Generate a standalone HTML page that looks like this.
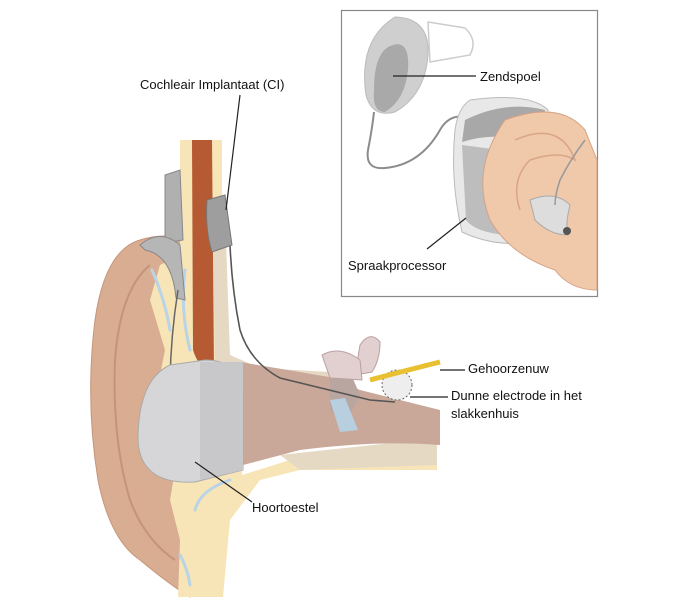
<!DOCTYPE html>
<html><head><meta charset="utf-8"><style>
html,body{margin:0;padding:0;background:#fff;width:687px;height:600px;overflow:hidden}
svg{display:block}
text{font-family:"Liberation Sans",sans-serif;font-size:13px;fill:#111}
</style></head><body>
<svg width="687" height="600" viewBox="0 0 687 600">
<!-- inset box -->
<rect x="341.5" y="10.5" width="256" height="286" fill="#fff" stroke="#888" stroke-width="1.2"/>
<!-- coil -->
<path d="M428,22 L465,28 Q478,40 470,55 L430,62 Z" fill="#fff" stroke="#ccc" stroke-width="1.5"/>
<path d="M395,17 Q430,18 428,55 Q425,95 395,112 Q372,118 366,95 Q358,40 395,17Z" fill="#cfcfcf" stroke="#bbb"/>
<path d="M393,45 Q410,40 408,70 Q405,100 385,112 Q372,112 374,90 Q374,50 393,45Z" fill="#a9a9a9"/>
<path d="M374,112 Q372,130 368,150 Q365,170 385,168 Q420,165 440,130 Q450,112 470,118" fill="none" stroke="#8c8c8c" stroke-width="2"/>
<!-- processor -->
<path d="M470,100 Q530,92 548,110 L545,240 Q500,250 462,232 Q450,180 455,130 Q458,108 470,100Z" fill="#e8e8e8" stroke="#bbb"/>
<path d="M465,120 Q505,100 545,110 L540,145 Q500,130 462,142Z" fill="#a8a8a8"/>
<path d="M462,145 L500,150 L505,235 Q475,232 466,220Z" fill="#bdbdbd"/>
<!-- inset ear -->
<path d="M505,120 Q560,100 585,130 L597,160 L597,290 Q570,290 555,270 Q510,255 490,220 Q470,170 505,120Z" fill="#f0c8aa" stroke="#d6a283"/>
<path d="M515,140 Q560,120 575,160 Q560,150 530,160 Q510,180 520,210" fill="none" stroke="#d9a586" stroke-width="1.5"/>
<path d="M530,200 Q555,190 570,205 Q565,225 568,235 Q550,235 535,220Z" fill="#dddddd" stroke="#aaa"/>
<circle cx="567" cy="231" r="4" fill="#555"/>
<path d="M585,140 Q570,160 560,180 Q555,195 555,205" fill="none" stroke="#999" stroke-width="1.5"/>
<!-- main ear pinna -->
<path d="M140,240 Q105,250 95,320 Q85,400 98,480 Q110,540 140,560 Q170,585 190,597 L190,240 Q165,232 140,240Z" fill="#d9ad92" stroke="#c4967a"/>
<path d="M150,265 Q120,290 115,360 Q112,440 130,500 Q145,540 175,560" fill="none" stroke="#c49478" stroke-width="2"/>
<!-- beige cross section -->
<path d="M180,140 L222,140 L222,240 L215,360 L227,375 L300,375 L330,378 L340,378 L340,395 L245,395 L242,475 L290,460 L380,450 L437,440 L437,470 L300,470 L260,480 L230,520 L223,597 L178,597 L180,540 L170,500 L175,470 L160,460 L155,400 L165,350 L150,300 L160,265 L180,255Z" fill="#f7e5b8"/>
<!-- cartilage streaks -->
<g stroke="#b9d4e6" stroke-width="3" fill="none" stroke-linecap="round">
<path d="M152,270 Q165,300 170,330"/>
<path d="M185,270 Q180,310 190,350"/>
<path d="M190,395 Q215,390 235,395"/>
<path d="M195,510 Q200,490 230,480"/>
<path d="M180,555 Q188,570 190,585"/>
</g>
<!-- bone speckled -->
<path d="M213,240 L226,240 L230,355 L260,368 L330,372 L340,398 L250,395 L215,370Z" fill="#e6d9c4"/>
<path d="M280,455 L437,438 L437,465 L300,470 Z" fill="#e6d9c4"/>
<!-- muscle -->
<path d="M192,140 L212,140 L214,370 Q200,372 193,350Z" fill="#b55a32"/>
<!-- ear canal -->
<path d="M240,362 Q300,372 335,378 L360,390 Q400,400 440,410 L440,445 Q380,440 300,450 L243,465Z" fill="#c9a899"/>
<path d="M330,378 L350,372 L360,395 L345,425 L330,410Z" fill="#b9a6a0"/>
<path d="M330,400 L345,398 L358,430 L340,432Z" fill="#b8cfe0"/>
<!-- cochlea / semicircular -->
<path d="M360,345 Q370,330 380,342 Q380,360 372,372 L355,375Z" fill="#e2cfcf" stroke="#b9a0a0"/>
<path d="M322,355 Q340,345 360,360 L362,380 L330,378Z" fill="#e2cfcf" stroke="#b9a0a0"/>
<circle cx="397" cy="385" r="15" fill="#eee" stroke="#666" stroke-dasharray="2,2"/>
<path d="M370,380 Q400,372 440,362" fill="none" stroke="#e8c030" stroke-width="5"/>
<!-- electrode wire -->
<path d="M230,245 Q232,290 240,330 Q250,362 280,378 L370,400 L395,402" fill="none" stroke="#555" stroke-width="1.6"/>
<!-- CI implant -->
<path d="M207,200 L225,195 L232,245 L212,252 Q205,230 207,200Z" fill="#9e9e9e" stroke="#777"/>
<path d="M165,175 L180,170 L183,240 L165,243Z" fill="#b0b0b0" stroke="#888"/>
<!-- behind-ear processor -->
<path d="M140,245 Q160,228 180,245 L185,300 L176,298 Q172,255 145,250Z" fill="#b6b6b6" stroke="#888"/>
<path d="M178,290 Q170,340 170,390 Q170,410 160,418" fill="none" stroke="#666" stroke-width="1.5"/>
<!-- hearing aid -->
<path d="M243,400 L243,470 L195,482 Q140,485 138,440 Q138,380 170,365 L205,360 Q243,360 243,400Z" fill="#d6d6d8" stroke="#aaa"/>
<path d="M200,362 L243,362 L243,470 L200,480Z" fill="#c8c8ca"/>
<!-- leader lines -->
<g stroke="#222" stroke-width="1.2" fill="none">
<line x1="240" y1="95" x2="226" y2="210"/>
<line x1="393" y1="76" x2="476" y2="76"/>
<line x1="427" y1="249" x2="466" y2="218"/>
<line x1="440" y1="370" x2="465" y2="370"/>
<line x1="410" y1="397" x2="448" y2="397"/>
<line x1="195" y1="462" x2="252" y2="502"/>
</g>
<text x="140" y="89">Cochleair Implantaat (CI)</text>
<text x="480" y="81">Zendspoel</text>
<text x="348" y="270">Spraakprocessor</text>
<text x="468" y="373">Gehoorzenuw</text>
<text x="451" y="400">Dunne electrode in het</text>
<text x="451" y="418">slakkenhuis</text>
<text x="252" y="512">Hoortoestel</text>
</svg>
</body></html>
